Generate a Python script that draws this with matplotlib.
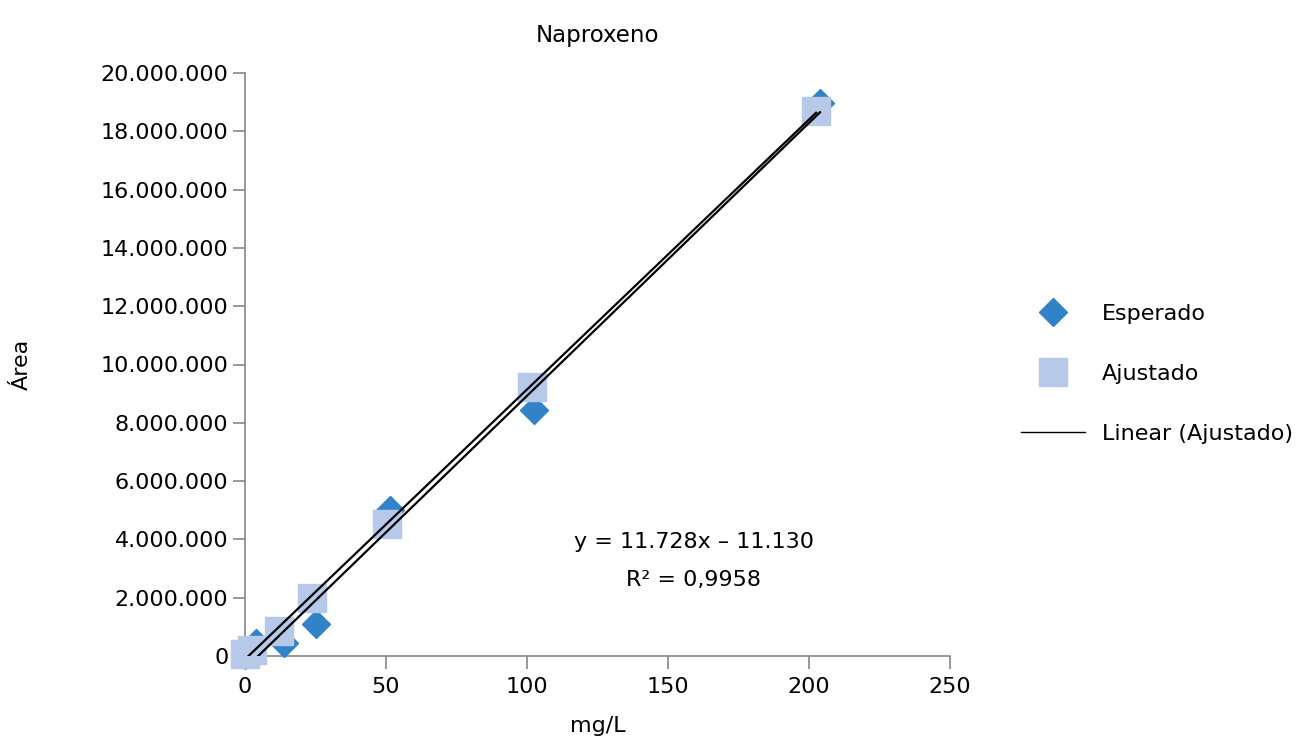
import numpy as np
import matplotlib
matplotlib.use("Agg")
import matplotlib.pyplot as plt
from matplotlib.lines import Line2D
from matplotlib.ticker import FuncFormatter

esperado_x = [0, 3.9, 13.8, 25.2, 51.4, 102.5, 203.9]
esperado_y = [30000, 450000, 450000, 1100000, 5000000, 8450000, 18970000]
ajustado_x = [0, 2.5, 12.1, 23.8, 50.4, 101.8, 202.5]
ajustado_y = [80000, 200000, 860000, 1990000, 4530000, 9230000, 18700000]

equation = "y = 11.728x – 11.130"
r2 = "R² = 0,9958"

plt.rcParams["font.family"] = ["DejaVu Sans"]
plt.rcParams["font.size"] = 16

fig = plt.figure(figsize=(13.05, 7.48), dpi=100)
ax = fig.add_axes([245 / 1305, 1 - 656 / 748, 705 / 1305, 583 / 748])

ax.plot(esperado_x, esperado_y, linestyle="none", marker="D", markersize=14.5,
        color="#3182c6", zorder=3, clip_on=False)
ax.plot(ajustado_x, ajustado_y, linestyle="none", marker="s", markersize=20,
        color="#b7c9e8", zorder=4, clip_on=False)

# linear trendlines for both series
for xs, ys in [(esperado_x, esperado_y), (ajustado_x, ajustado_y)]:
    m, b = np.polyfit(xs, ys, 1)
    xx = np.array([min(xs), max(xs)])
    ax.plot(xx, m * xx + b, color="black", linewidth=1.6, zorder=5)

ax.set_xlim(0, 250)
ax.set_ylim(0, 20000000)
ax.set_xticks(np.arange(0, 251, 50))
ax.set_yticks(np.arange(0, 20000001, 2000000))
ax.yaxis.set_major_formatter(FuncFormatter(lambda v, p: f"{int(v):,}".replace(",", ".")))

for s in ["top", "right"]:
    ax.spines[s].set_visible(False)
for s in ["left", "bottom"]:
    ax.spines[s].set_color("#868686")
    ax.spines[s].set_linewidth(1.2)
ax.tick_params(axis="both", direction="out", color="#868686", length=9, width=1.2)
ax.tick_params(axis="y", pad=3)
ax.tick_params(axis="x", pad=6)

ax.set_title("Naproxeno", fontsize=16.5, pad=22)
ax.set_xlabel("mg/L", va="center")
ax.xaxis.set_label_coords(0.5, -0.12)
ax.set_ylabel("Área")
ax.yaxis.set_label_coords(-0.302, 0.5)

fig.text(694 / 1305, 1 - 542 / 748, equation, ha="center", va="center")
fig.text(694 / 1305, 1 - 580 / 748, r2, ha="center", va="center")

handles = [
    Line2D([], [], linestyle="none", marker="D", markersize=14.5, color="#3182c6"),
    Line2D([], [], linestyle="none", marker="s", markersize=20, color="#b7c9e8"),
    Line2D([], [], color="black", linewidth=1),
]
fig.legend(handles, ["Esperado", "Ajustado", "Linear (Ajustado)"],
           loc="center left", bbox_to_anchor=(1021 / 1305, 1 - 374 / 748),
           frameon=False, handlelength=2.9, labelspacing=1.8, handletextpad=0.75,
           borderpad=0, borderaxespad=0)

fig.savefig("out.png", dpi=100)
